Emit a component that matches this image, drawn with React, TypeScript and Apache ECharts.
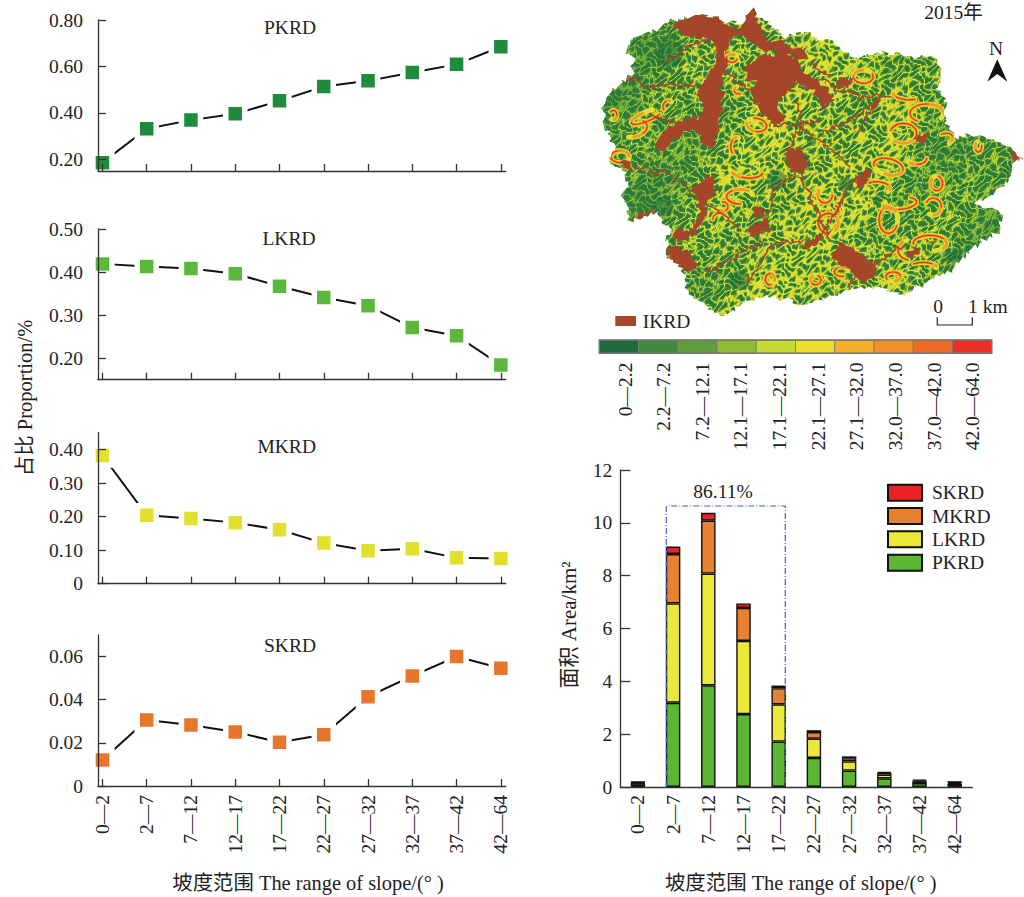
import React, { useEffect, useRef } from "react";
import * as echarts from "echarts";

const FONT = "'Liberation Serif','Noto Sans CJK SC',serif";
const slopeBins = ["0—2", "2—7", "7—12", "12—17", "17—22", "22—27", "27—32", "32—37", "37—42", "42—64"];
const binIndex = [0, 1, 2, 3, 4, 5, 6, 7, 8, 9];

const pkrdShare = [0.186, 0.332, 0.369, 0.396, 0.452, 0.514, 0.538, 0.574, 0.609, 0.685];
const lkrdShare = [0.419, 0.413, 0.408, 0.396, 0.367, 0.341, 0.322, 0.271, 0.252, 0.184];
const mkrdShare = [0.382, 0.204, 0.194, 0.182, 0.161, 0.121, 0.098, 0.104, 0.077, 0.075];
const skrdShare = [0.012, 0.0306, 0.0283, 0.025, 0.0203, 0.0238, 0.0414, 0.051, 0.06, 0.0546];

const pkrdArea = [0.08, 3.19, 3.85, 2.76, 1.72, 1.1, 0.62, 0.33, 0.15, 0.11];
const lkrdArea = [0.07, 3.76, 4.23, 2.77, 1.41, 0.73, 0.35, 0.14, 0.06, 0.05];
const mkrdArea = [0.03, 1.87, 2.0, 1.25, 0.61, 0.25, 0.12, 0.06, 0.03, 0.02];
const skrdArea = [0.02, 0.28, 0.3, 0.17, 0.1, 0.07, 0.07, 0.05, 0.04, 0.02];

const slopeClasses = ["0—2.2", "2.2—7.2", "7.2—12.1", "12.1—17.1", "17.1—22.1", "22.1—27.1", "27.1—32.0", "32.0—37.0", "37.0—42.0", "42.0—64.0"];
const classColors = ["#1f6a3a", "#3f8a3e", "#5f9f3c", "#8fba35", "#c3d934", "#ecdd2e", "#f2b02a", "#f28f2b", "#ee6a27", "#ed2f25"];

// Map drawing (decorative raster), in 3x crop units of the map box
const outline = [[108,150],[120,115],[200,85],[255,60],[320,40],[400,60],[450,70],[490,28],[510,60],[580,110],[660,100],[770,150],[800,180],[880,155],[960,170],[1040,175],[1055,210],[1040,260],[1070,310],[1060,370],[1100,410],[1140,400],[1210,420],[1260,450],[1302,470],[1270,490],[1240,560],[1160,610],[1230,640],[1230,690],[1180,720],[1120,770],[1090,810],[1000,850],[940,885],[860,860],[780,870],[700,890],[640,915],[560,890],[480,900],[400,945],[330,900],[290,860],[280,810],[230,770],[235,680],[200,640],[120,665],[100,590],[110,530],[60,480],[70,430],[40,370],[40,300],[80,260],[130,220],[130,180]];
const brownPatches = [
  [[250,70],[320,40],[400,60],[440,95],[415,130],[410,180],[395,230],[400,290],[385,380],[370,450],[330,420],[320,370],[340,310],[320,280],[360,220],[380,160],[360,110],[300,110],[260,90]],
  [[465,200],[520,160],[610,170],[640,210],[690,240],[730,300],[700,330],[670,270],[620,240],[560,330],[590,360],[560,370],[510,330],[490,290],[505,250],[470,240]],
  [[450,70],[490,28],[505,60],[520,110],[640,150],[650,180],[560,160],[500,140],[440,100]],
  [[190,430],[250,370],[320,340],[330,400],[290,390],[220,450]],
  [[590,450],[640,450],[650,500],[620,520],[590,490]],
  [[230,740],[290,750],[330,810],[290,815],[240,780]],
  [[250,690],[300,690],[330,640],[310,560],[370,520],[380,570],[350,610],[340,670],[290,720],[260,720]],
  [[120,660],[190,625],[205,635],[150,660]],
  [[740,720],[780,740],[850,790],[860,830],[820,850],[770,800],[730,770]],
  [[470,690],[530,660],[550,690],[490,715]],
  [[640,730],[690,700],[700,720],[650,750]],
  [[970,410],[1020,390],[1000,430]],
  [[90,480],[120,480],[130,510],[105,500]],
  [[800,530],[840,510],[830,550],[790,570]],
  [[950,750],[990,745],[985,768],[950,768]],
  [[1005,715],[1040,725],[1010,730]],
  [[1260,455],[1302,470],[1275,488]],
  [[490,620],[520,620],[525,650],[495,650]],
  [[740,240],[790,240],[780,265],[745,265]],
];
const brownRoads = [
  [[130,500],[220,520],[300,580]],[[450,680],[380,640],[320,590]],[[700,700],[780,560],[830,510]],
  [[620,380],[700,430],[780,500]],[[800,400],[830,350],[870,300]],[[350,820],[450,760],[520,730]],
  [[480,850],[510,790],[540,740]],[[620,500],[660,590],[720,720]],[[400,220],[460,250],[520,330]],
  [[100,230],[180,260],[320,250]],[[620,300],[640,380],[590,450]],[[870,300],[780,360],[700,400]],
  [[780,870],[790,820]],[[250,370],[180,340]],[[620,520],[560,560],[520,660]],
  [[560,370],[620,380],[690,360]],[[690,240],[800,290],[900,290]],[[660,180],[720,230]],
  [[440,100],[300,140],[220,190]],[[540,740],[640,720]],[[850,790],[940,740]],
];
// [cx, cy, rx, ry, tilt]
const hotRings = [
  [705,585,22,24,0],[540,838,14,17,0],[235,320,16,18,0],[70,345,11,14,0],[677,840,16,14,0],[470,510,50,24,0.1],
  [450,590,40,22,0],[895,500,45,24,0.25],[860,565,40,20,0],[930,610,50,18,-0.1],[895,660,28,40,0],[960,750,36,30,0],
  [1020,730,50,24,0],[500,375,30,20,0.2],[130,385,42,26,-0.2],[170,350,50,14,-0.4],[715,670,30,30,0],[390,660,22,22,0],
  [400,620,14,14,0],[820,230,30,20,0],[950,285,40,14,0.1],[1010,340,50,28,0],[940,400,40,30,0],[1060,420,30,18,-0.4],
  [1165,440,10,16,0],[90,470,28,18,0],[440,440,18,28,0],[1030,620,24,26,0],[1040,550,18,22,0],[980,475,30,18,0],
  [755,815,22,14,0],[910,830,22,14,0],[1000,800,40,12,0],[730,630,16,14,0],[425,175,16,12,0],[450,270,18,12,0],
];
const darkSpots = [[665,425,14],[765,555,22],[860,600,12],[1095,770,20],[560,540,30],[640,490,22],[240,160,40],[220,620,30],[450,840,30]];

function paintMap(): string {
  const W = 434, H = 320;
  const src = document.createElement("canvas");
  src.width = W; src.height = H;
  const sctx = src.getContext("2d")!;
  const img = sctx.createImageData(W, H);
  const ramp = [[44,122,60],[70,142,56],[118,172,55],[178,208,52],[226,220,48]];
  for (let y = 0; y < H; y++) {
    for (let x = 0; x < W; x++) {
      const a = Math.sin(x * 0.47 + 2.1 * Math.sin(y * 0.17) + 1.6 * Math.sin(y * 0.39 + x * 0.09));
      const b = Math.sin(y * 0.53 + 2.3 * Math.sin(x * 0.14 + 1) + 1.4 * Math.sin(x * 0.37 + y * 0.07));
      const fine = 0.35 * Math.sin(x * 1.13 + y * 0.71 + 2 * Math.sin(x * 0.23 - y * 0.19));
      const v = Math.abs(a + b + fine);
      const east = 0.28 * Math.sin(x * 0.016 - 1.9) + 0.14 * Math.sin(x * 0.05 + y * 0.04);
      const t = v - east;
      const k = t < 0.16 ? 4 : t < 0.38 ? 3 : t < 0.78 ? 2 : t < 1.2 ? 1 : 0;
      const c = ramp[k];
      const i = (y * W + x) * 4;
      img.data[i] = c[0]; img.data[i + 1] = c[1]; img.data[i + 2] = c[2]; img.data[i + 3] = 255;
    }
  }
  sctx.putImageData(img, 0, 0);
  const cv = document.createElement("canvas");
  cv.width = W; cv.height = H;
  const ctx = cv.getContext("2d")!;
  const jag = (pts: number[][], closed: boolean) => {
    const out: number[][] = [];
    const n = closed ? pts.length : pts.length - 1;
    for (let i = 0; i < n; i++) {
      const p = pts[i], q = pts[(i + 1) % pts.length];
      const len = Math.hypot(q[0] - p[0], q[1] - p[1]);
      const steps = Math.max(1, Math.round(len / 9));
      for (let s = 0; s < steps; s++) {
        const x = p[0] + ((q[0] - p[0]) * s) / steps, y = p[1] + ((q[1] - p[1]) * s) / steps;
        out.push([
          x + 6 * Math.sin(x * 0.31 + y * 0.17) + 4 * Math.sin(y * 0.83 + x * 0.11),
          y + 6 * Math.sin(y * 0.29 - x * 0.21) + 4 * Math.sin(x * 0.77 + y * 0.13),
        ]);
      }
    }
    if (!closed) out.push(pts[pts.length - 1]);
    return out;
  };
  const trace = (pts: number[][]) => {
    ctx.beginPath();
    pts.forEach((p, i) => (i ? ctx.lineTo(p[0] / 3, p[1] / 3) : ctx.moveTo(p[0] / 3, p[1] / 3)));
  };
  trace(jag(outline, true)); ctx.closePath(); ctx.clip();
  ctx.filter = "blur(0.6px)";
  ctx.drawImage(src, 0, 0);
  ctx.fillStyle = "rgba(30,110,60,0.55)";
  darkSpots.forEach(([cx, cy, r]) => { ctx.beginPath(); ctx.arc(cx / 3, cy / 3, r / 3, 0, 7); ctx.fill(); });
  ctx.lineCap = "round";
  const rings = (color: string, w: number, span: number) => {
    ctx.strokeStyle = color; ctx.lineWidth = w;
    hotRings.forEach(([cx, cy, rx, ry, tilt], i) => {
      const start = 1.3 * i;
      ctx.beginPath();
      ctx.ellipse(cx / 3, cy / 3, rx / 3, ry / 3, tilt, start, start + span * (0.7 + 0.3 * Math.sin(i * 2.1)));
      ctx.stroke();
    });
  };
  rings("#e4dc30", 5, 6.3);
  rings("#f0982b", 2.8, 5.4);
  rings("#e8301f", 1.2, 3.6);
  ctx.fillStyle = "#a5462b";
  brownPatches.forEach((p) => { trace(jag(p, true)); ctx.closePath(); ctx.fill(); });
  ctx.strokeStyle = "#a5462b"; ctx.lineWidth = 1.5;
  brownRoads.forEach((p) => { trace(jag(p, false)); ctx.stroke(); });
  return cv.toDataURL("image/png");
}

const axisLine = { show: true, onZero: false, lineStyle: { color: "#333", width: 1.3 } };
const labelStyle = { color: "#222", fontFamily: FONT, fontSize: 19.5 };

function linePanel(i: number, top: number, height: number, min: number, max: number, yTicks: number[], values: number[], color: string, name: string, showX: boolean) {
  return {
    grid: { left: 98, top, width: 407.7, height, containLabel: false },
    xAxis: {
      gridIndex: i, type: "value", min: -0.1, max: 9.11, z: 5,
      splitLine: { show: false }, axisLine,
      axisTick: { show: true, inside: true, length: 7, customValues: binIndex, lineStyle: { color: "#333", width: 1.3 } },
      axisLabel: showX
        ? { show: true, rotate: 90, margin: 9, ...labelStyle, customValues: binIndex, formatter: (v: number) => slopeBins[Math.round(v)] }
        : { show: false },
    },
    yAxis: {
      gridIndex: i, type: "value", min, max, z: 5,
      splitLine: { show: false }, axisLine,
      axisTick: { show: true, inside: true, length: 8, customValues: yTicks, lineStyle: { color: "#333", width: 1.3 } },
      axisLabel: { show: true, margin: 15, ...labelStyle, customValues: yTicks, formatter: (v: number) => (v === 0 ? "0" : v.toFixed(2)) },
    },
    series: {
      type: "line", name: name + " share", xAxisIndex: i, yAxisIndex: i, clip: false,
      data: values.map((v, k) => [binIndex[k], v]),
      symbol: "rect", symbolSize: 19, showSymbol: true,
      lineStyle: { color: "#111", width: 2 },
      itemStyle: { color, borderColor: "#fff", borderWidth: 5.5 },
    },
  };
}

const svgText = (text: string, x: number, y: number, extra: any = {}, size = 19.5) => ({
  type: "text", x, y, z: 20, silent: true, rotation: extra.rotation ?? 0,
  style: { text, fill: "#222", font: `${size}px ${FONT}`, align: extra.align ?? "center", verticalAlign: "middle" },
});

const App = () => {
  const ref = useRef<HTMLDivElement>(null);
  useEffect(() => {
    const chart = echarts.init(ref.current!, null, { renderer: "svg" });
    const panels = [
      linePanel(0, 20, 151, 0.15, 0.8, [0.2, 0.4, 0.6, 0.8], pkrdShare, "#1f8b3c", "PKRD", false),
      linePanel(1, 229, 150.7, 0.15, 0.5, [0.2, 0.3, 0.4, 0.5], lkrdShare, "#5cb83c", "LKRD", false),
      linePanel(2, 432.7, 151, 0, 0.45, [0, 0.1, 0.2, 0.3, 0.4], mkrdShare, "#e0e02e", "MKRD", false),
      linePanel(3, 635, 151, 0, 0.07, [0, 0.02, 0.04, 0.06], skrdShare, "#e8752c", "SKRD", true),
    ];
    const barSeries = [
      { name: "PKRD", data: pkrdArea, color: "#5cb533" },
      { name: "LKRD", data: lkrdArea, color: "#ebe83a" },
      { name: "MKRD", data: mkrdArea, color: "#e8812f" },
      { name: "SKRD", data: skrdArea, color: "#ed2124" },
    ].map((s) => ({
      type: "bar", name: s.name, stack: "area", xAxisIndex: 4, yAxisIndex: 4, barWidth: 14.5, data: s.data,
      itemStyle: { color: s.color, borderColor: "#111", borderWidth: 1.4 },
    }));

    const graphics: any[] = [
      { type: "image", x: 590, y: 0, z: 1, silent: true, style: { image: paintMap(), x: 0, y: 0, width: 434, height: 320 } },
      svgText("PKRD", 290, 27),
      svgText("LKRD", 289, 238),
      svgText("MKRD", 286.7, 446),
      svgText("SKRD", 290, 645),
      svgText("占比 Proportion/%", 25, 398, { rotation: Math.PI / 2 }, 20.5),
      svgText("坡度范围 The range of slope/(° )", 308, 883, {}, 20.4),
      svgText("坡度范围 The range of slope/(° )", 800.7, 883, {}, 20.4),
      svgText("面积 Area/km²", 569, 625, { rotation: Math.PI / 2 }, 21),
      svgText("86.11%", 723, 491.5),
      svgText("2015年", 953.5, 12),
      svgText("N", 996, 48),
      svgText("IKRD", 642.7, 321.5, { align: "left" }),
      svgText("0", 938, 306),
      svgText("1 km", 968, 306, { align: "left" }),
      {
        type: "polyline", z: 20, silent: true,
        shape: { points: [[666.3, 787], [666.3, 506], [785.3, 506], [785.3, 787]] },
        style: { fill: "none", stroke: "#4a62c8", lineWidth: 1.2, lineDash: [6, 2, 1, 2] },
      },
      {
        type: "polyline", z: 20, silent: true,
        shape: { points: [[937.3, 317.3], [937.3, 325], [972.3, 325], [972.3, 317.3]] },
        style: { fill: "none", stroke: "#222", lineWidth: 1.2 },
      },
      {
        type: "polygon", z: 20, silent: true,
        shape: { points: [[997.3, 59.3], [1007.3, 81.7], [997.3, 74], [987.3, 81.7]] },
        style: { fill: "#111" },
      },
      { type: "rect", z: 20, silent: true, shape: { x: 615.3, y: 316, width: 20.7, height: 10 }, style: { fill: "#a5462b" } },
      { type: "rect", z: 20, silent: true, shape: { x: 599.3, y: 340, width: 392.4, height: 13.3 }, style: { fill: "none", stroke: "#777", lineWidth: 1.5 } },
    ];
    classColors.forEach((c, i) => {
      graphics.push({
        type: "rect", z: 19, silent: true,
        shape: { x: 599.3 + i * 39.24, y: 340, width: 39.24, height: 13.3 },
        style: { fill: c, stroke: "#777", lineWidth: 0.8 },
      });
      graphics.push(svgText(slopeClasses[i], 625 + i * 38.65, 362.5, { rotation: Math.PI / 2, align: "right" }));
    });

    chart.setOption({
      animation: false,
      backgroundColor: "#fff",
      textStyle: { fontFamily: FONT },
      grid: [...panels.map((p) => p.grid), { left: 620.3, top: 470, width: 352, height: 317, containLabel: false }],
      xAxis: [
        ...panels.map((p) => p.xAxis),
        {
          gridIndex: 4, type: "category", data: slopeBins, z: 5,
          axisLine, axisTick: { show: false },
          axisLabel: { show: true, rotate: 90, margin: 8, interval: 0, ...labelStyle },
        },
      ],
      yAxis: [
        ...panels.map((p) => p.yAxis),
        {
          gridIndex: 4, type: "value", min: 0, max: 12, interval: 2, z: 5,
          splitLine: { show: false }, axisLine,
          axisTick: { show: true, inside: true, length: 10, lineStyle: { color: "#333", width: 1.3 } },
          axisLabel: { show: true, margin: 8, ...labelStyle },
        },
      ],
      legend: {
        orient: "vertical", left: 887, top: 483, itemWidth: 34, itemHeight: 16, itemGap: 3.8, padding: 0, icon: "rect",
        data: ["SKRD", "MKRD", "LKRD", "PKRD"],
        textStyle: { ...labelStyle, lineHeight: 16, height: 16, padding: [0, 0, 0, 5] },
        selectedMode: false,
      },
      series: [...barSeries, ...panels.map((p) => p.series)],
      graphic: { elements: graphics },
    });
    return () => chart.dispose();
  }, []);
  return <div ref={ref} style={{ position: "absolute", left: 0, top: 0, width: 1024, height: 897 }} />;
};

export default App;
